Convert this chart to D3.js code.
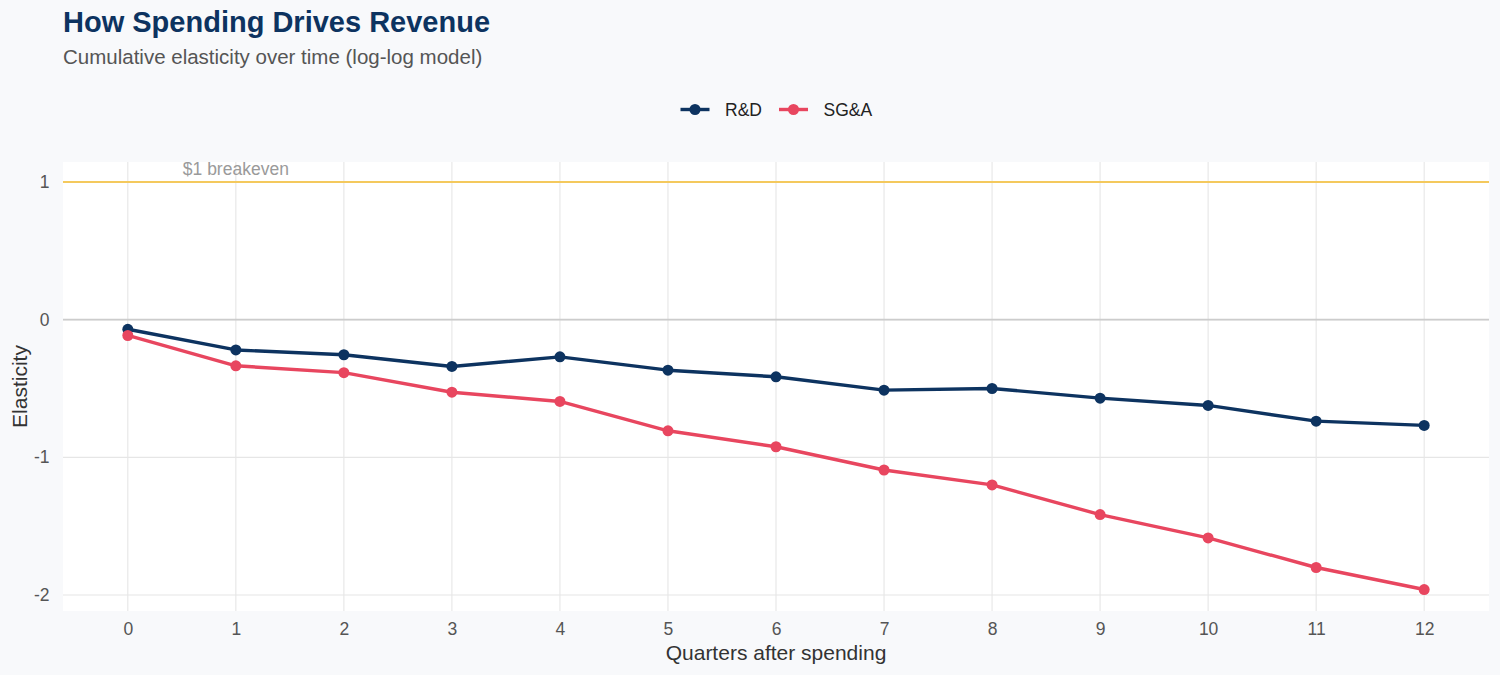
<!DOCTYPE html>
<html>
<head>
<meta charset="utf-8">
<script src="https://cdn.jsdelivr.net/npm/d3@7/dist/d3.min.js"></script>
<style>
  body { margin: 0; background: #f8f9fb; }
  svg { display: block; font-family: "Liberation Sans", Arial, sans-serif; }
</style>
</head>
<body>
<div id="chart"></div>
<script>
// quarters after spending
var quarters = [0, 1, 2, 3, 4, 5, 6, 7, 8, 9, 10, 11, 12];
// cumulative elasticity
var rdValues = [-0.07, -0.22, -0.255, -0.34, -0.27, -0.367, -0.415, -0.512, -0.50, -0.57, -0.623, -0.737, -0.768];
var sgaValues = [-0.115, -0.335, -0.385, -0.527, -0.594, -0.807, -0.923, -1.092, -1.20, -1.416, -1.585, -1.80, -1.96];
var seriesNames = ["R&D", "SG&A"];
var yTicks = [-2, -1, 0, 1];
var breakeven = 1;

var W = 1500, H = 675;
var navy = "#0d3360", red = "#e8465f";
var colors = [navy, red];
var font = "Liberation Sans, Arial, sans-serif";

var svg = d3.select("#chart")
	.append("svg")
	.attr("width", W)
	.attr("height", H);

svg.append("rect").attr("width", W).attr("height", H).attr("fill", "#f8f9fb");

var panel = {left: 63, right: 1489, top: 162, bottom: 611};

var x = d3.scaleLinear()
	.domain([-0.6, 12.6])
	.range([panel.left, panel.right]);

var y = d3.scaleLinear()
	.domain([-2.116, 1.145])
	.range([panel.bottom, panel.top]);

// panel background
svg.append("rect")
	.attr("x", panel.left)
	.attr("y", panel.top)
	.attr("width", panel.right - panel.left)
	.attr("height", panel.bottom - panel.top)
	.attr("fill", "#ffffff");

// grid
svg.append("g")
	.selectAll("line")
	.data(quarters)
	.enter()
	.append("line")
	.attr("x1", function(d) { return x(d); })
	.attr("x2", function(d) { return x(d); })
	.attr("y1", panel.top)
	.attr("y2", panel.bottom)
	.attr("stroke", "#e6e6e6")
	.attr("stroke-width", 1.1);

svg.append("g")
	.selectAll("line")
	.data(yTicks)
	.enter()
	.append("line")
	.attr("x1", panel.left)
	.attr("x2", panel.right)
	.attr("y1", function(d) { return y(d); })
	.attr("y2", function(d) { return y(d); })
	.attr("stroke", "#e6e6e6")
	.attr("stroke-width", 1.1);

// zero line
svg.append("line")
	.attr("x1", panel.left)
	.attr("x2", panel.right)
	.attr("y1", y(0))
	.attr("y2", y(0))
	.attr("stroke", "#cccccc")
	.attr("stroke-width", 1.6);

// breakeven line
svg.append("line")
	.attr("x1", panel.left)
	.attr("x2", panel.right)
	.attr("y1", y(breakeven))
	.attr("y2", y(breakeven))
	.attr("stroke", "#f4c95d")
	.attr("stroke-width", 2);

svg.append("text")
	.attr("x", x(1))
	.attr("y", y(breakeven) - 6.5)
	.attr("text-anchor", "middle")
	.attr("font-size", 17.5)
	.attr("fill", "#9a9a9a")
	.text("$1 breakeven");

// axes
var xAxis = d3.axisBottom(x).tickValues(quarters).tickSize(0).tickPadding(11.5);
var gx = svg.append("g")
	.attr("transform", "translate(0," + panel.bottom + ")")
	.call(xAxis);
gx.select(".domain").remove();
gx.selectAll("text").attr("font-size", 17.5).attr("fill", "#555555").attr("font-family", font);

var yAxis = d3.axisLeft(y).tickValues(yTicks).tickSize(0).tickPadding(13.5)
	.tickFormat(function(d) { return String(d); });
var gy = svg.append("g")
	.attr("transform", "translate(" + panel.left + ",0)")
	.call(yAxis);
gy.select(".domain").remove();
gy.selectAll("text").attr("font-size", 17.5).attr("fill", "#555555").attr("font-family", font);

// axis titles
svg.append("text")
	.attr("x", (panel.left + panel.right) / 2)
	.attr("y", 660)
	.attr("text-anchor", "middle")
	.attr("font-size", 21)
	.attr("fill", "#333333")
	.text("Quarters after spending");

svg.append("text")
	.attr("transform", "translate(27," + ((panel.top + panel.bottom) / 2) + ") rotate(-90)")
	.attr("text-anchor", "middle")
	.attr("font-size", 21)
	.attr("fill", "#333333")
	.text("Elasticity");

// series
var series = [rdValues, sgaValues];
var line = d3.line()
	.x(function(d, i) { return x(quarters[i]); })
	.y(function(d) { return y(d); });

for (var k = 0; k < series.length; k++) {
	svg.append("path")
		.datum(series[k])
		.attr("d", line)
		.attr("fill", "none")
		.attr("stroke", colors[k])
		.attr("stroke-width", 3.4)
		.attr("stroke-linejoin", "round");

	svg.append("g")
		.selectAll("circle")
		.data(series[k])
		.enter()
		.append("circle")
		.attr("cx", function(d, i) { return x(quarters[i]); })
		.attr("cy", function(d) { return y(d); })
		.attr("r", 5.5)
		.attr("fill", colors[k]);
}

// legend
var legendX = [680.5, 779];
var lg = svg.append("g")
	.selectAll("g")
	.data(seriesNames)
	.enter()
	.append("g")
	.attr("transform", function(d, i) { return "translate(" + legendX[i] + ",109.5)"; });

lg.append("line")
	.attr("x1", 0).attr("x2", 29)
	.attr("y1", 0).attr("y2", 0)
	.attr("stroke", function(d, i) { return colors[i]; })
	.attr("stroke-width", 3.4);
lg.append("circle")
	.attr("cx", 14.5).attr("cy", 0).attr("r", 5.5)
	.attr("fill", function(d, i) { return colors[i]; });
lg.append("text")
	.attr("x", 44.5)
	.attr("y", 6.3)
	.attr("font-size", 17.5)
	.attr("fill", "#222222")
	.text(function(d) { return d; });

// titles
svg.append("text")
	.attr("x", 63)
	.attr("y", 32)
	.attr("font-size", 29)
	.attr("font-weight", "bold")
	.attr("fill", navy)
	.text("How Spending Drives Revenue");

svg.append("text")
	.attr("x", 63)
	.attr("y", 64)
	.attr("font-size", 20.5)
	.attr("fill", "#555555")
	.text("Cumulative elasticity over time (log-log model)");
</script>
</body>
</html>
